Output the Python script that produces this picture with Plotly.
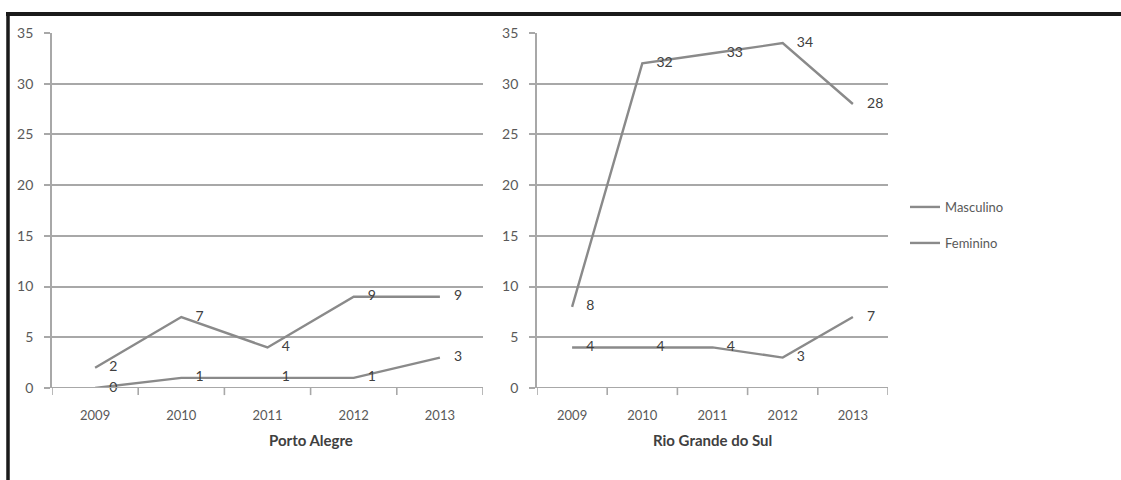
import plotly.graph_objects as go

# Category axis and the two regional series
anos = ["2009", "2010", "2011", "2012", "2013"]

poa_masculino = [2, 7, 4, 9, 9]
poa_feminino = [0, 1, 1, 1, 3]

rs_masculino = [8, 32, 33, 34, 28]
rs_feminino = [4, 4, 4, 3, 7]

y_ticks = [0, 5, 10, 15, 20, 25, 30, 35]

W, H = 1121, 480
LINE = "#8a8a8a"
GRID = "#a8a8a8"
TXT = "#595959"
FONT = "Lato"

fig = go.Figure()


def add_series(values, name, xa, ya, show, legend):
    fig.add_trace(go.Scatter(
        x=anos, y=values, name=name, mode="lines+markers+text",
        text=[str(v) for v in values], textposition="middle right",
        textfont=dict(family=FONT, size=14, color="#404040"),
        marker=dict(size=21, color="rgba(0,0,0,0)"),
        line=dict(color=LINE, width=2.4),
        xaxis=xa, yaxis=ya, showlegend=show, legend=legend, cliponaxis=False,
    ))


add_series(poa_masculino, "Masculino", "x", "y", False, "legend")
add_series(poa_feminino, "Feminino", "x", "y", False, "legend2")
add_series(rs_masculino, "Masculino", "x2", "y2", True, "legend")
add_series(rs_feminino, "Feminino", "x2", "y2", True, "legend2")

y_dom = [1 - 388 / H, 1 - 33 / H]
common_x = dict(
    type="category", range=[-0.5, 4.5], showgrid=False, showline=False,
    ticks="", tickfont=dict(family=FONT, size=13, color=TXT), zeroline=False,
    ticklabelstandoff=18, automargin=False,
)
common_y = dict(
    range=[0, 35], tickvals=y_ticks, showgrid=True, gridcolor=GRID, gridwidth=1.8,
    showline=True, linecolor=GRID, linewidth=1.8, ticks="outside", ticklen=6,
    tickcolor=GRID, tickwidth=1.6, zeroline=False, ticklabelstandoff=8,
    tickfont=dict(family=FONT, size=14, color=TXT), automargin=False,
)

legend_style = dict(
    xanchor="left", yanchor="middle",
    font=dict(family=FONT, size=13, color=TXT),
    itemwidth=30, bgcolor="rgba(0,0,0,0)", borderwidth=0,
)

fig.update_layout(
    template="none",
    width=W, height=H,
    margin=dict(l=0, r=0, t=0, b=0, autoexpand=False),
    paper_bgcolor="white", plot_bgcolor="white",
    xaxis=dict(domain=[52 / W, 483 / W], anchor="y", **common_x),
    yaxis=dict(domain=y_dom, anchor="x", **common_y),
    xaxis2=dict(domain=[537 / W, 888 / W], anchor="y2", **common_x),
    yaxis2=dict(domain=y_dom, anchor="x2", **common_y),
    legend=dict(x=905 / W, y=1 - 207 / H, **legend_style),
    legend2=dict(x=905 / W, y=1 - 243 / H, **legend_style),
    showlegend=True,
)

# X-axis baseline with category-boundary tick marks
for xa, ya in (("x", "y"), ("x2", "y2")):
    fig.add_shape(type="line", xref=f"{xa} domain", yref=ya, x0=0, x1=1, y0=0, y1=0,
                  line=dict(color=GRID, width=1.8))
    for k in range(6):
        fig.add_shape(type="line", xref=xa, yref=f"{ya} domain",
                      x0=k - 0.5, x1=k - 0.5, y0=0, y1=-0.02,
                      line=dict(color=GRID, width=1.6))

# Panel titles
fig.add_annotation(text="<b>Porto Alegre</b>", xref="paper", yref="paper",
                   x=267 / W, y=1 - 451 / H, showarrow=False,
                   font=dict(family=FONT, size=15, color="#404040"))
fig.add_annotation(text="<b>Rio Grande do Sul</b>", xref="paper", yref="paper",
                   x=712 / W, y=1 - 451 / H, showarrow=False,
                   font=dict(family=FONT, size=15, color="#404040"))

# Frame (top and left edges)
fig.add_shape(type="line", xref="paper", yref="paper", x0=6 / W, x1=1, y0=1 - 14 / H, y1=1 - 14 / H,
              line=dict(color="#1a1a1a", width=4))
fig.add_shape(type="line", xref="paper", yref="paper", x0=8 / W, x1=8 / W, y0=0, y1=1 - 12 / H,
              line=dict(color="#1a1a1a", width=3.5))

fig.write_html("out.html")
